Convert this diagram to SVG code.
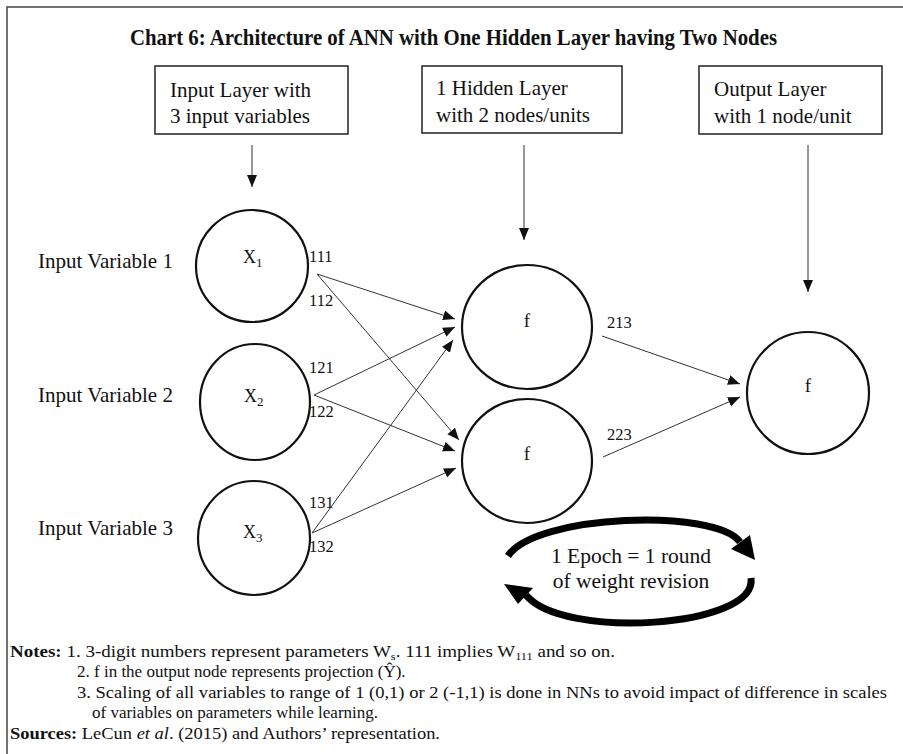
<svg xmlns="http://www.w3.org/2000/svg" width="903" height="754" viewBox="0 0 903 754">
<style>
text{font-family:"Liberation Serif","Times New Roman",serif;fill:#111}
.box{fill:#fff;stroke:#222;stroke-width:1.5}
.node{fill:#fff;stroke:#111;stroke-width:2.2}
.lbl{font-size:21px}
.w{font-size:16.5px}
.conn line{stroke:#333;stroke-width:1}
.note{font-size:17px}
.arc{fill:none;stroke:#000;stroke-width:7}
</style>
<defs>
<marker id="ah" markerUnits="userSpaceOnUse" markerWidth="14" markerHeight="12" refX="12" refY="5" orient="auto">
<path d="M0,0 L12,5 L0,10 Z" fill="#111"/>
</marker>
</defs>
<rect width="903" height="754" fill="#fff"/>
<path d="M7,754 V7 H903" fill="none" stroke="#444" stroke-width="1.5"/>
<text x="453.5" y="45" font-size="24" font-weight="bold" text-anchor="middle" textLength="647" lengthAdjust="spacingAndGlyphs">Chart 6: Architecture of ANN with One Hidden Layer having Two Nodes</text>

<g id="box-input">
<rect class="box" x="155" y="66" width="193" height="68"/>
<text class="lbl" x="170" y="97">Input Layer with</text>
<text class="lbl" x="170" y="123">3 input variables</text>
</g>
<g id="box-hidden">
<rect class="box" x="422" y="66" width="200" height="67"/>
<text class="lbl" x="436" y="95">1 Hidden Layer</text>
<text class="lbl" x="436" y="122">with 2 nodes/units</text>
</g>
<g id="box-output">
<rect class="box" x="699" y="66" width="183" height="68"/>
<text class="lbl" x="714" y="96">Output Layer</text>
<text class="lbl" x="714" y="123">with 1 node/unit</text>
</g>

<g id="label-iv1"><text class="lbl" x="38" y="268">Input Variable 1</text></g>
<g id="label-iv2"><text class="lbl" x="38" y="402">Input Variable 2</text></g>
<g id="label-iv3"><text class="lbl" x="38" y="535">Input Variable 3</text></g>

<g id="node-x1">
<ellipse class="node" cx="252" cy="266" rx="56" ry="56"/>
<text x="243" y="263" font-size="18">X<tspan font-size="13" dy="4">1</tspan></text>
</g>
<g id="node-x2">
<ellipse class="node" cx="255" cy="402" rx="55" ry="58"/>
<text x="244" y="402" font-size="18">X<tspan font-size="13" dy="4">2</tspan></text>
</g>
<g id="node-x3">
<ellipse class="node" cx="254" cy="538" rx="56" ry="57"/>
<text x="243" y="538" font-size="18">X<tspan font-size="13" dy="4">3</tspan></text>
</g>
<g id="node-h1">
<ellipse class="node" cx="527" cy="327" rx="65" ry="62"/>
<text x="527" y="327" font-size="19" text-anchor="middle">f</text>
</g>
<g id="node-h2">
<ellipse class="node" cx="527" cy="461" rx="65" ry="62"/>
<text x="527" y="460" font-size="19" text-anchor="middle">f</text>
</g>
<g id="node-out">
<ellipse class="node" cx="808" cy="393" rx="61" ry="61"/>
<text x="808" y="392" font-size="19" text-anchor="middle">f</text>
</g>

<g id="connectors" class="conn">
<line x1="252" y1="145" x2="252" y2="187" marker-end="url(#ah)"/>
<line x1="524" y1="145" x2="524" y2="240" marker-end="url(#ah)"/>
<line x1="808" y1="145" x2="808" y2="292" marker-end="url(#ah)"/>
<line x1="317" y1="274" x2="455" y2="319" marker-end="url(#ah)"/>
<line x1="317" y1="274" x2="459" y2="440" marker-end="url(#ah)"/>
<line x1="314" y1="395" x2="455" y2="327" marker-end="url(#ah)"/>
<line x1="314" y1="395" x2="455" y2="451" marker-end="url(#ah)"/>
<line x1="312" y1="533" x2="453" y2="340" marker-end="url(#ah)"/>
<line x1="312" y1="533" x2="456" y2="468" marker-end="url(#ah)"/>
<line x1="602" y1="336" x2="740" y2="384" marker-end="url(#ah)"/>
<line x1="603" y1="457" x2="740" y2="397" marker-end="url(#ah)"/>
</g>

<g id="weights" class="w">
<text class="w" x="309" y="262">111</text>
<text class="w" x="309" y="306">112</text>
<text class="w" x="309" y="373">121</text>
<text class="w" x="309" y="417">122</text>
<text class="w" x="309" y="508">131</text>
<text class="w" x="309" y="552">132</text>
<text class="w" x="607" y="328">213</text>
<text class="w" x="607" y="440">223</text>
</g>

<g id="epoch">
<path class="arc" d="M508,556 C535,514 716,508 740,542"/>
<path d="M731,549 L750,535 L755,560 Z" fill="#000"/>
<path class="arc" d="M751,578 C758,628 562,640 526,595"/>
<path d="M504,584 L533,588 L518,604 Z" fill="#000"/>
<text x="631" y="563" font-size="21.5" text-anchor="middle">1 Epoch = 1 round</text>
<text x="631" y="588" font-size="21.5" text-anchor="middle">of weight revision</text>
</g>

<g id="notes" class="note">
<text class="note" x="10" y="657" textLength="605" lengthAdjust="spacingAndGlyphs"><tspan font-weight="bold">Notes:</tspan> 1. 3-digit numbers represent parameters W<tspan font-size="11" dy="3">s</tspan><tspan dy="-3">. 111 implies W</tspan><tspan font-size="11" dy="3">111</tspan><tspan dy="-3"> and so on.</tspan></text>
<text class="note" x="77" y="677">2. f in the output node represents projection (Ŷ).</text>
<text class="note" x="77" y="698" textLength="810" lengthAdjust="spacingAndGlyphs">3. Scaling of all variables to range of 1 (0,1) or 2 (-1,1) is done in NNs to avoid impact of difference in scales</text>
<text class="note" x="92" y="718">of variables on parameters while learning.</text>
<text class="note" x="10" y="739" textLength="430" lengthAdjust="spacingAndGlyphs"><tspan font-weight="bold">Sources:</tspan> LeCun <tspan font-style="italic">et al</tspan>. (2015) and Authors’ representation.</text>
</g>
</svg>
